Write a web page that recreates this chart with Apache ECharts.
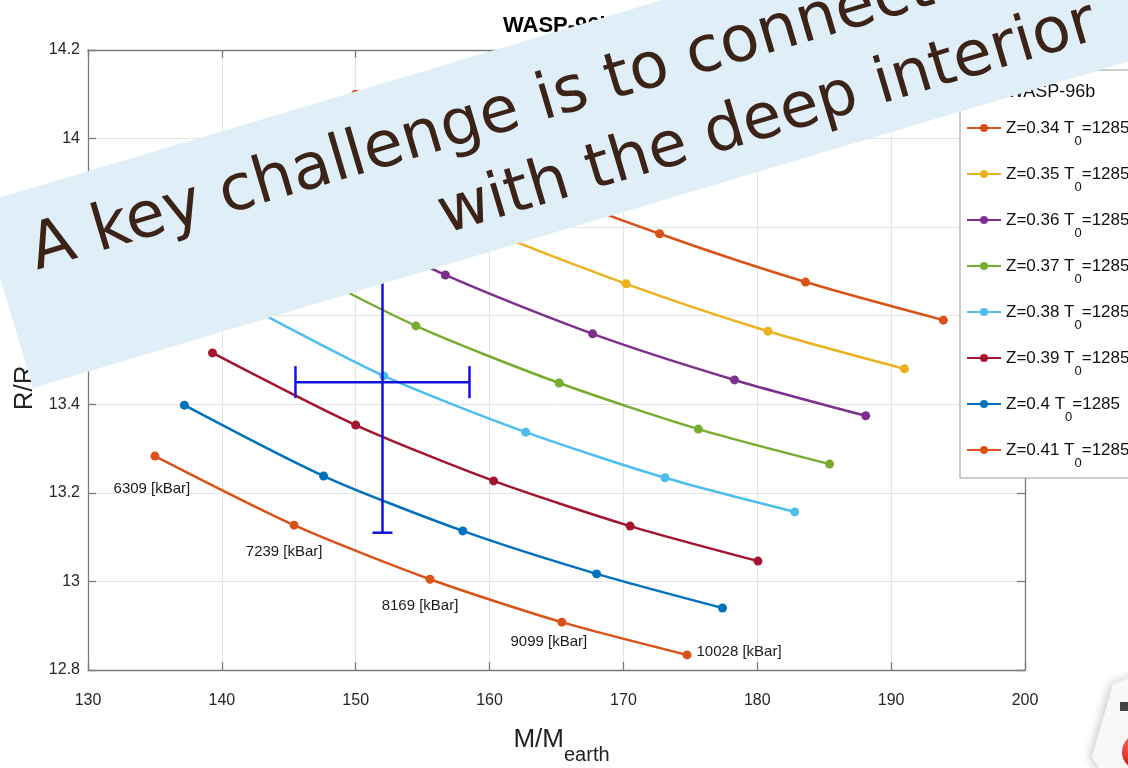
<!DOCTYPE html>
<html><head><meta charset="utf-8">
<script src="https://cdn.jsdelivr.net/npm/echarts@6/dist/echarts.min.js"></script>
<style>html,body{margin:0;padding:0;background:#fff}#c{width:1128px;height:768px}</style>
</head><body><div id="c"></div>
<script>
// ---- data ----
const zValues = ['0.34', '0.35', '0.36', '0.37', '0.38', '0.39', '0.4', '0.41'];
const T0 = 1285;
const mass034 = [150.0, 161.2, 172.7, 183.6, 193.9];
const radius034 = [14.10, 13.918, 13.785, 13.676, 13.59];
const mass035 = [147.8, 159.0, 170.2, 180.8, 191.0];
const radius035 = [13.975, 13.805, 13.672, 13.565, 13.48];
const mass036 = [145.6, 156.7, 167.7, 178.3, 188.1];
const radius036 = [13.86, 13.692, 13.559, 13.455, 13.374];
const mass037 = [143.5, 154.5, 165.2, 175.6, 185.4];
const radius037 = [13.745, 13.577, 13.448, 13.344, 13.265];
const mass038 = [141.4, 152.1, 162.7, 173.1, 182.8];
const radius038 = [13.63, 13.464, 13.337, 13.234, 13.157];
const mass039 = [139.3, 150.0, 160.3, 170.5, 180.05];
const radius039 = [13.516, 13.353, 13.227, 13.125, 13.046];
const mass040 = [137.2, 147.6, 158.0, 168.0, 177.4];
const radius040 = [13.398, 13.238, 13.114, 13.017, 12.94];
const mass041 = [135.0, 145.4, 155.55, 165.4, 174.75];
const radius041 = [13.283, 13.127, 13.005, 12.908, 12.834];
const pressures = [6309, 7239, 8169, 9099, 10028];   // kBar, along the Z=0.41 curve
const obsMass = 152.0, obsMassErr = 6.5;             // WASP-96b measurement
const obsRadius = 13.45, obsRadiusErr = 0.34;
const xTicks = [130, 140, 150, 160, 170, 180, 190, 200];
const yTicks = [12.8, 13, 13.2, 13.4, 13.6, 13.8, 14, 14.2];

const massSets = [mass034, mass035, mass036, mass037, mass038, mass039, mass040, mass041];
const radiusSets = [radius034, radius035, radius036, radius037, radius038, radius039, radius040, radius041];
const colors = ['#D95319', '#EDB120', '#7E2F8E', '#77AC30', '#4DBEEE', '#A2142F', '#0072BD', '#D95319'];

const FONT = '"Liberation Sans", Arial, sans-serif';
const labelOffsets = [[-3, 16], [-10, 10], [-10, 10], [-13, 3], null];

const series = zValues.map((z, i) => {
  const last = i === zValues.length - 1;
  return {
    type: 'line',
    name: 'Z=' + z,
    smooth: 0.25,
    symbol: 'circle',
    symbolSize: 9,
    color: colors[i],
    lineStyle: { width: 2.5, color: colors[i] },
    itemStyle: { color: colors[i] },
    z: 3,
    data: massSets[i].map((m, k) => {
      const item = { value: [m, radiusSets[i][k]] };
      if (last) {
        const off = labelOffsets[k];
        item.label = off ? { show: true, position: 'bottom', offset: off }
                         : { show: true, position: 'right', offset: [0, -3] };
        item.label.formatter = pressures[k] + ' [kBar]';
        item.label.fontSize = 15;
        item.label.color = '#1a1a1a';
        item.label.fontFamily = FONT;
      }
      return item;
    })
  };
});

series.push({
  type: 'custom',
  name: 'obs',
  z: 5,
  data: [[obsMass, obsRadius, obsMassErr, obsRadiusErr]],
  renderItem: (params, api) => {
    const x = api.value(0), y = api.value(1), ex = api.value(2), ey = api.value(3);
    const l = api.coord([x - ex, y]), r = api.coord([x + ex, y]);
    const t = api.coord([x, y + ey]), b = api.coord([x, y - ey]);
    const st = { stroke: '#1212dc', lineWidth: 2.5 };
    const cap = 16, capB = 10;
    return { type: 'group', children: [
      { type: 'line', shape: { x1: l[0], y1: l[1], x2: r[0], y2: r[1] }, style: st },
      { type: 'line', shape: { x1: l[0], y1: l[1] - cap, x2: l[0], y2: l[1] + cap }, style: st },
      { type: 'line', shape: { x1: r[0], y1: r[1] - cap, x2: r[0], y2: r[1] + cap }, style: st },
      { type: 'line', shape: { x1: t[0], y1: t[1], x2: b[0], y2: b[1] }, style: st },
      { type: 'line', shape: { x1: t[0] - capB, y1: t[1], x2: t[0] + capB, y2: t[1] }, style: st },
      { type: 'line', shape: { x1: b[0] - capB, y1: b[1], x2: b[0] + capB, y2: b[1] }, style: st }
    ] };
  }
});

const axisCommon = {
  type: 'value',
  axisLine: { show: true, lineStyle: { color: '#7a7a7a', width: 1.3 } },
  axisTick: { show: true, inside: true, length: 8, lineStyle: { color: '#7a7a7a', width: 1.3 } },
};
const fmt = v => String(+(+v).toFixed(1));
const D2R = Math.PI / 180;
const xNameRich = {
  m: { fontSize: 26, lineHeight: 30, verticalAlign: 'top', padding: [0, 0, 0, 10], fontFamily: FONT, color: '#222' },
  s: { fontSize: 20, lineHeight: 22, padding: [18, 0, 0, 0], verticalAlign: 'top', fontFamily: FONT, color: '#222' }
};
const yNameRich = {
  m: { fontSize: 26, lineHeight: 30, verticalAlign: 'top', fontFamily: FONT, color: '#222' },
  s: { fontSize: 20, lineHeight: 22, padding: [18, 10, 0, 0], verticalAlign: 'top', fontFamily: FONT, color: '#222' }
};

const option = {
  animation: false,
  backgroundColor: '#fff',
  title: {
    text: 'WASP-96b', left: 498, top: 10,
    textStyle: { fontSize: 22, fontWeight: 'bold', color: '#000', fontFamily: FONT }
  },
  grid: { left: 88, top: 50, width: 937, height: 620, outerBoundsMode: 'none', containLabel: false },
  xAxis: [
    Object.assign({}, axisCommon, {
      min: xTicks[0], max: xTicks[xTicks.length - 1], interval: xTicks[1] - xTicks[0],
      position: 'bottom',
      axisLabel: { margin: 23, fontSize: 16, color: '#262626', fontFamily: FONT, formatter: fmt },
      splitLine: { show: true, lineStyle: { color: '#e4e4e4', width: 1 } },
      name: '{m|M/M}{s|earth}', nameLocation: 'middle', nameGap: 57, nameMoveOverlap: false,
      nameTextStyle: { color: '#222', fontFamily: FONT, rich: xNameRich }
    }),
    Object.assign({}, axisCommon, {
      min: xTicks[0], max: xTicks[xTicks.length - 1], interval: xTicks[1] - xTicks[0],
      position: 'top', axisLabel: { show: false }, splitLine: { show: false }
    })
  ],
  yAxis: [
    Object.assign({}, axisCommon, {
      min: yTicks[0], max: yTicks[yTicks.length - 1], interval: 0.2,
      position: 'left',
      axisLabel: { margin: 8, fontSize: 16, color: '#262626', fontFamily: FONT, formatter: fmt },
      splitLine: { show: true, lineStyle: { color: '#e4e4e4', width: 1 } },
      name: '{m|R/R}{s|earth}', nameLocation: 'middle', nameGap: 46, nameMoveOverlap: false,
      nameTextStyle: { color: '#222', fontFamily: FONT, rich: yNameRich }
    }),
    Object.assign({}, axisCommon, {
      min: yTicks[0], max: yTicks[yTicks.length - 1], interval: 0.2,
      position: 'right', axisLabel: { show: false }, splitLine: { show: false }
    })
  ],
  legend: {
    orient: 'vertical', left: 960, top: 70,
    data: zValues.map(z => 'Z=' + z),
    padding: [39, 30, 8, 6],
    itemGap: 7, itemWidth: 34, itemHeight: 10,
    backgroundColor: '#fff', borderColor: '#9a9a9a', borderWidth: 1, borderRadius: 0,
    formatter: name => '{a|' + name + ' T}{s|0}{a|=' + T0 + '}',
    textStyle: { fontFamily: FONT, color: '#111', rich: {
      a: { fontSize: 17, lineHeight: 38, verticalAlign: 'middle', fontFamily: FONT, color: '#111' },
      s: { fontSize: 13, lineHeight: 12, padding: [26, 0, 0, 0], verticalAlign: 'top', fontFamily: FONT, color: '#111' }
    } }
  },
  series: series,
  graphic: [
    { type: 'text', x: 1007, y: 83, z: 50,
      style: { text: 'WASP-96b', font: '18px ' + FONT, fill: '#111' } },
    // bottom-right slide decoration
    { type: 'polygon', z: 60,
      shape: { points: [[1113, 684], [1140, 674], [1140, 780], [1100, 770], [1092, 757]] },
      style: { fill: '#f8f8f8', shadowBlur: 10, shadowColor: 'rgba(0,0,0,0.2)', shadowOffsetX: -3 } },
    { type: 'rect', z: 61, shape: { x: 1120, y: 702, width: 8, height: 9 }, style: { fill: '#444' } },
    { type: 'circle', z: 61, shape: { cx: 1140, cy: 752, r: 18 },
      style: { fill: { type: 'radial', x: 0.3, y: 0.3, r: 0.8, colorStops: [{ offset: 0, color: '#ff6a5a' }, { offset: 1, color: '#c00000' }] } } },
    // banner
    { type: 'rect', x: 33, y: 388, rotation: 16.6 * D2R, z: 100,
      shape: { x: 0, y: -192, width: 1600, height: 192 },
      style: { fill: '#dfeef7' } },
    { type: 'text', x: 38, y: 273, rotation: 16.5 * D2R, z: 101,
      style: { text: 'A key challenge is to connect', x: 0, y: -20, verticalAlign: 'middle',
               font: '64px "DejaVu Sans"', fill: '#3b2318' } },
    { type: 'text', x: 446, y: 237, rotation: 16.6 * D2R, z: 101,
      style: { text: 'with the deep interior', x: 0, y: -20, verticalAlign: 'middle',
               font: '63px "DejaVu Sans"', fill: '#3b2318' } }
  ]
};

const chart = echarts.init(document.getElementById('c'), null, { renderer: 'canvas' });
chart.setOption(option);
</script>
</body></html>
